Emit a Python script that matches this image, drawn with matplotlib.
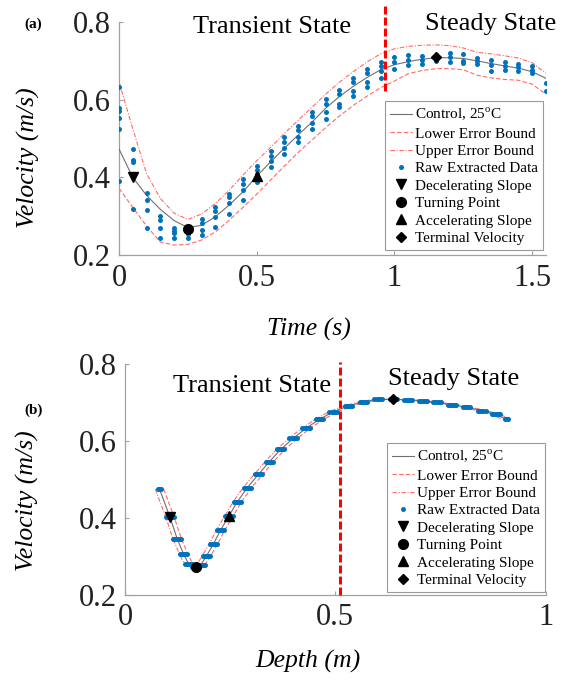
import matplotlib.pyplot as plt

plt.rcParams['font.family'] = ['Liberation Serif', 'DejaVu Serif']
plt.rcParams['mathtext.fontset'] = 'custom'
plt.rcParams['mathtext.rm'] = 'Liberation Serif'

# (a) velocity vs time
time_ctrl = [0.00, 0.05, 0.10, 0.15, 0.20, 0.25, 0.30, 0.35, 0.40, 0.45, 0.50, 0.55,
             0.60, 0.65, 0.70, 0.75, 0.80, 0.85, 0.90, 0.95, 1.00, 1.05, 1.10, 1.15,
             1.20, 1.25, 1.30, 1.35, 1.40, 1.45, 1.50, 1.55]
vel_ctrl_a = [0.473, 0.400, 0.354, 0.318, 0.289, 0.271, 0.277, 0.299, 0.329, 0.363, 0.403, 0.440,
              0.475, 0.509, 0.542, 0.578, 0.608, 0.634, 0.657, 0.677, 0.690, 0.698, 0.704, 0.708,
              0.708, 0.706, 0.700, 0.693, 0.687, 0.681, 0.672, 0.655]
vel_low_a = [0.372, 0.323, 0.275, 0.234, 0.226, 0.228, 0.239, 0.260, 0.290, 0.323, 0.357, 0.393,
             0.429, 0.464, 0.496, 0.528, 0.558, 0.585, 0.609, 0.631, 0.648, 0.667, 0.675, 0.680,
             0.680, 0.677, 0.663, 0.656, 0.652, 0.650, 0.640, 0.614]
vel_up_a = [0.646, 0.525, 0.410, 0.346, 0.308, 0.292, 0.306, 0.333, 0.367, 0.406, 0.443, 0.477,
            0.513, 0.547, 0.580, 0.614, 0.645, 0.672, 0.697, 0.718, 0.731, 0.737, 0.740, 0.741,
            0.739, 0.733, 0.722, 0.718, 0.713, 0.707, 0.695, 0.668]

raw_time_a = [0, 0, 0, 0, 0, 0,
              0.05, 0.05, 0.05, 0.05,
              0.10, 0.10, 0.10, 0.10,
              0.15, 0.15, 0.15, 0.15,
              0.20, 0.20, 0.20, 0.20,
              0.25, 0.25, 0.25,
              0.30, 0.30, 0.30, 0.30,
              0.35, 0.35, 0.35, 0.35,
              0.40, 0.40, 0.40, 0.40,
              0.45, 0.45, 0.45, 0.45,
              0.50, 0.50, 0.50, 0.50,
              0.55, 0.55, 0.55, 0.55,
              0.60, 0.60, 0.60, 0.60,
              0.65, 0.65, 0.65, 0.65,
              0.70, 0.70, 0.70, 0.70,
              0.75, 0.75, 0.75, 0.75,
              0.80, 0.80, 0.80, 0.80,
              0.85, 0.85, 0.85, 0.85,
              0.90, 0.90, 0.90, 0.90,
              0.95, 0.95, 0.95, 0.95,
              1.00, 1.00, 1.00,
              1.05, 1.05, 1.05,
              1.10, 1.10, 1.10,
              1.15, 1.15, 1.15,
              1.20, 1.20, 1.20,
              1.25, 1.25, 1.25,
              1.30, 1.30, 1.30,
              1.35, 1.35, 1.35,
              1.40, 1.40, 1.40,
              1.45, 1.45, 1.45,
              1.50, 1.50, 1.50,
              1.55, 1.55]
raw_vel_a = [0.632, 0.578, 0.570, 0.552, 0.524, 0.390,
             0.472, 0.446, 0.439, 0.318,
             0.360, 0.343, 0.316, 0.269,
             0.300, 0.290, 0.270, 0.245,
             0.271, 0.263, 0.256, 0.245,
             0.263, 0.255, 0.245,
             0.293, 0.283, 0.266, 0.252,
             0.323, 0.314, 0.299, 0.273,
             0.357, 0.349, 0.335, 0.307,
             0.395, 0.383, 0.367, 0.343,
             0.430, 0.419, 0.408, 0.389,
             0.468, 0.455, 0.442, 0.427,
             0.505, 0.492, 0.475, 0.460,
             0.532, 0.522, 0.505, 0.492,
             0.568, 0.559, 0.541, 0.524,
             0.601, 0.589, 0.569, 0.550,
             0.625, 0.614, 0.590, 0.580,
             0.655, 0.645, 0.623, 0.609,
             0.679, 0.669, 0.646, 0.633,
             0.698, 0.686, 0.674, 0.657,
             0.709, 0.698, 0.678,
             0.716, 0.702, 0.689,
             0.712, 0.702, 0.692,
             0.716, 0.708, 0.700,
             0.721, 0.710, 0.698,
             0.717, 0.700, 0.695,
             0.706, 0.699, 0.692,
             0.702, 0.688, 0.674,
             0.698, 0.687, 0.676,
             0.693, 0.684, 0.674,
             0.686, 0.677, 0.668,
             0.643, 0.622]

# (b) velocity vs depth
depth_ctrl = [0.082, 0.107, 0.124, 0.139, 0.151, 0.168, 0.180, 0.194, 0.210, 0.227, 0.247, 0.267,
              0.291, 0.317, 0.343, 0.370, 0.400, 0.430, 0.462, 0.495, 0.531, 0.567, 0.602, 0.638,
              0.673, 0.708, 0.742, 0.777, 0.812, 0.848, 0.882, 0.907]
vel_ctrl_b = [0.475, 0.402, 0.346, 0.307, 0.281, 0.272, 0.278, 0.302, 0.332, 0.368, 0.405, 0.442,
              0.479, 0.513, 0.546, 0.578, 0.607, 0.633, 0.656, 0.676, 0.691, 0.702, 0.708, 0.708,
              0.707, 0.704, 0.700, 0.694, 0.688, 0.679, 0.669, 0.656]
depth_low = [0.092, 0.117, 0.134, 0.149, 0.161, 0.178, 0.190, 0.204, 0.220, 0.237, 0.257, 0.277,
             0.301, 0.327, 0.353, 0.380, 0.410, 0.440, 0.472, 0.505, 0.541, 0.577, 0.612, 0.648,
             0.683, 0.718, 0.752, 0.787, 0.822, 0.858, 0.892, 0.917]
depth_up = [0.072, 0.097, 0.114, 0.129, 0.141, 0.158, 0.170, 0.184, 0.200, 0.217, 0.237, 0.257,
            0.281, 0.307, 0.333, 0.360, 0.390, 0.420, 0.452, 0.485, 0.521, 0.557, 0.592, 0.628,
            0.663, 0.698, 0.732, 0.767, 0.802, 0.838, 0.872, 0.897]

raw_depth_b = [0.078, 0.082, 0.086,
               0.098, 0.103, 0.107, 0.111, 0.116,
               0.115, 0.120, 0.124, 0.128, 0.133,
               0.130, 0.135, 0.139, 0.143, 0.148,
               0.142, 0.147, 0.151, 0.155, 0.160,
               0.159, 0.164, 0.168, 0.172, 0.177,
               0.173, 0.178, 0.182, 0.186, 0.191,
               0.185, 0.190, 0.194, 0.198, 0.203,
               0.201, 0.206, 0.210, 0.214, 0.219,
               0.218, 0.223, 0.227, 0.231, 0.236,
               0.238, 0.243, 0.247, 0.251, 0.256,
               0.258, 0.263, 0.267, 0.271, 0.276,
               0.282, 0.287, 0.291, 0.295, 0.300,
               0.308, 0.313, 0.317, 0.321, 0.326,
               0.334, 0.339, 0.343, 0.347, 0.352,
               0.361, 0.366, 0.370, 0.374, 0.379,
               0.391, 0.396, 0.400, 0.404, 0.409,
               0.421, 0.426, 0.430, 0.434, 0.439,
               0.453, 0.458, 0.462, 0.466, 0.471,
               0.486, 0.491, 0.495, 0.499, 0.504,
               0.522, 0.527, 0.531, 0.535, 0.540,
               0.558, 0.563, 0.567, 0.571, 0.576,
               0.593, 0.598, 0.602, 0.606, 0.611,
               0.629, 0.634, 0.638, 0.642, 0.647,
               0.664, 0.669, 0.673, 0.677, 0.682,
               0.699, 0.704, 0.708, 0.712, 0.717,
               0.733, 0.738, 0.742, 0.746, 0.751,
               0.768, 0.773, 0.777, 0.781, 0.786,
               0.803, 0.808, 0.812, 0.816, 0.821,
               0.839, 0.844, 0.848, 0.852, 0.857,
               0.873, 0.878, 0.882, 0.886, 0.891,
               0.904, 0.907, 0.910]
raw_vel_b = [0.475, 0.475, 0.475,
             0.402, 0.402, 0.402, 0.402, 0.402,
             0.346, 0.346, 0.346, 0.346, 0.346,
             0.307, 0.307, 0.307, 0.307, 0.307,
             0.281, 0.281, 0.281, 0.281, 0.281,
             0.272, 0.272, 0.272, 0.272, 0.272,
             0.278, 0.278, 0.278, 0.278, 0.278,
             0.302, 0.302, 0.302, 0.302, 0.302,
             0.332, 0.332, 0.332, 0.332, 0.332,
             0.368, 0.368, 0.368, 0.368, 0.368,
             0.405, 0.405, 0.405, 0.405, 0.405,
             0.442, 0.442, 0.442, 0.442, 0.442,
             0.479, 0.479, 0.479, 0.479, 0.479,
             0.513, 0.513, 0.513, 0.513, 0.513,
             0.546, 0.546, 0.546, 0.546, 0.546,
             0.578, 0.578, 0.578, 0.578, 0.578,
             0.607, 0.607, 0.607, 0.607, 0.607,
             0.633, 0.633, 0.633, 0.633, 0.633,
             0.656, 0.656, 0.656, 0.656, 0.656,
             0.676, 0.676, 0.676, 0.676, 0.676,
             0.691, 0.691, 0.691, 0.691, 0.691,
             0.702, 0.702, 0.702, 0.702, 0.702,
             0.708, 0.708, 0.708, 0.708, 0.708,
             0.708, 0.708, 0.708, 0.708, 0.708,
             0.707, 0.707, 0.707, 0.707, 0.707,
             0.704, 0.704, 0.704, 0.704, 0.704,
             0.700, 0.700, 0.700, 0.700, 0.700,
             0.694, 0.694, 0.694, 0.694, 0.694,
             0.688, 0.688, 0.688, 0.688, 0.688,
             0.679, 0.679, 0.679, 0.679, 0.679,
             0.669, 0.669, 0.669, 0.669, 0.669,
             0.656, 0.656, 0.656]

# characteristic points: decelerating, turning, accelerating, terminal
key_x_a = [0.05, 0.25, 0.50, 1.15]
key_y_a = [0.400, 0.268, 0.405, 0.709]
key_x_b = [0.107, 0.168, 0.247, 0.638]
key_y_b = [0.402, 0.272, 0.405, 0.708]
key_labels = ['Decelerating Slope', 'Turning Point', 'Accelerating Slope', 'Terminal Velocity']
key_markers = ['v', 'o', '^', 'D']
key_sizes = [7.5, 7, 7.5, 5.5]

split_a = 0.966
split_b = 0.51

BLUE = '#0072BD'
BOUND = '#ff6b6b'
AXC = '#a0a0a0'


def drawPanel(ax, x, y, ylo, yhi, xlo, xhi, rx, ry, kx, ky):
    ax.plot(x, y, color='#707070', lw=0.8, label='Control, 25$^{\\mathrm{o}}$C', zorder=3)
    ax.plot(xlo, ylo, color=BOUND, lw=0.8, ls=(0, (4, 2)), label='Lower Error Bound', zorder=2)
    ax.plot(xhi, yhi, color=BOUND, lw=0.8, ls=(0, (4, 1.5, 1, 1.5)), label='Upper Error Bound', zorder=2)
    ax.plot(rx, ry, 'o', color=BLUE, ms=3.6, mew=0, ls='none', label='Raw Extracted Data', zorder=4)
    for i in range(len(kx)):
        ax.plot(kx[i], ky[i], key_markers[i], color='black', ms=key_sizes[i], ls='none',
                label=key_labels[i], zorder=5)


def styleAxes(ax):
    for s in ['top', 'right']:
        ax.spines[s].set_visible(False)
    for s in ['left', 'bottom']:
        ax.spines[s].set_color(AXC)
        ax.spines[s].set_linewidth(0.9)
    ax.tick_params(direction='in', length=3, width=0.8, color=AXC, labelsize=22,
                   labelcolor='#222222', pad=6)
    ax.set_ylim(0.2, 0.8)
    ax.set_yticks([0.2, 0.4, 0.6, 0.8])


fig = plt.figure(figsize=(5.64, 6.86), dpi=100)
ax1 = fig.add_axes([0.211, 0.628, 0.757, 0.340])
ax2 = fig.add_axes([0.2216, 0.1327, 0.746, 0.3367])

drawPanel(ax1, time_ctrl, vel_ctrl_a, vel_low_a, vel_up_a, time_ctrl, time_ctrl,
          raw_time_a, raw_vel_a, key_x_a, key_y_a)
drawPanel(ax2, depth_ctrl, vel_ctrl_b, vel_ctrl_b, vel_ctrl_b, depth_low, depth_up,
          raw_depth_b, raw_vel_b, key_x_b, key_y_b)

styleAxes(ax1)
styleAxes(ax2)
ax1.set_xlim(0, 1.55)
ax1.set_xticks([0, 0.5, 1, 1.5])
ax1.set_xticklabels(['0', '0.5', '1', '1.5'])
ax2.set_xlim(0, 1)
ax2.set_xticks([0, 0.5, 1])
ax2.set_xticklabels(['0', '0.5', '1'])

ax1.plot([split_a, split_a], [0.622, 0.843], color='red', lw=2.2, dashes=(2.6, 1.0),
         clip_on=False, zorder=6)
ax2.plot([split_b, split_b], [0.2, 0.805], color='red', lw=2.2, dashes=(2.6, 1.0),
         clip_on=False, zorder=6)

ax1.text(0.269, 0.771, 'Transient State', fontsize=19, va='baseline')
ax1.text(1.111, 0.779, 'Steady State', fontsize=19, va='baseline')
ax2.text(0.114, 0.728, 'Transient State', fontsize=19, va='baseline')
ax2.text(0.625, 0.745, 'Steady State', fontsize=19, va='baseline')

ax1.set_xlabel('Time (s)', fontsize=18.5, style='italic')
ax1.set_ylabel('Velocity (m/s)', fontsize=18.5, style='italic')
ax2.set_xlabel('Depth (m)', fontsize=18.5, style='italic')
ax2.set_ylabel('Velocity (m/s)', fontsize=18.5, style='italic')
ax1.xaxis.set_label_coords(0.445, -0.318)
ax1.yaxis.set_label_coords(-0.213, 0.418)
ax2.xaxis.set_label_coords(0.434, -0.286)
ax2.yaxis.set_label_coords(-0.231, 0.409)
for lab in [ax1.xaxis.label, ax1.yaxis.label, ax2.xaxis.label, ax2.yaxis.label]:
    lab.set_va('center')

for ax, anchor in [(ax1, (0.623, 0.661)), (ax2, (0.623, 0.658))]:
    leg = ax.legend(loc='upper left', bbox_to_anchor=anchor, fontsize=11, frameon=True,
                    fancybox=False, edgecolor='#9a9a9a', framealpha=1, borderpad=0.35,
                    labelspacing=0.24, handlelength=1.4, handletextpad=0.2, borderaxespad=0)
    leg.get_frame().set_linewidth(0.8)

fig.text(0.044, 0.964, '(a)', fontsize=11, fontweight='bold', ha='left', va='center')
fig.text(0.044, 0.402, '(b)', fontsize=11, fontweight='bold', ha='left', va='center')

fig.savefig('out.png', dpi=100)
